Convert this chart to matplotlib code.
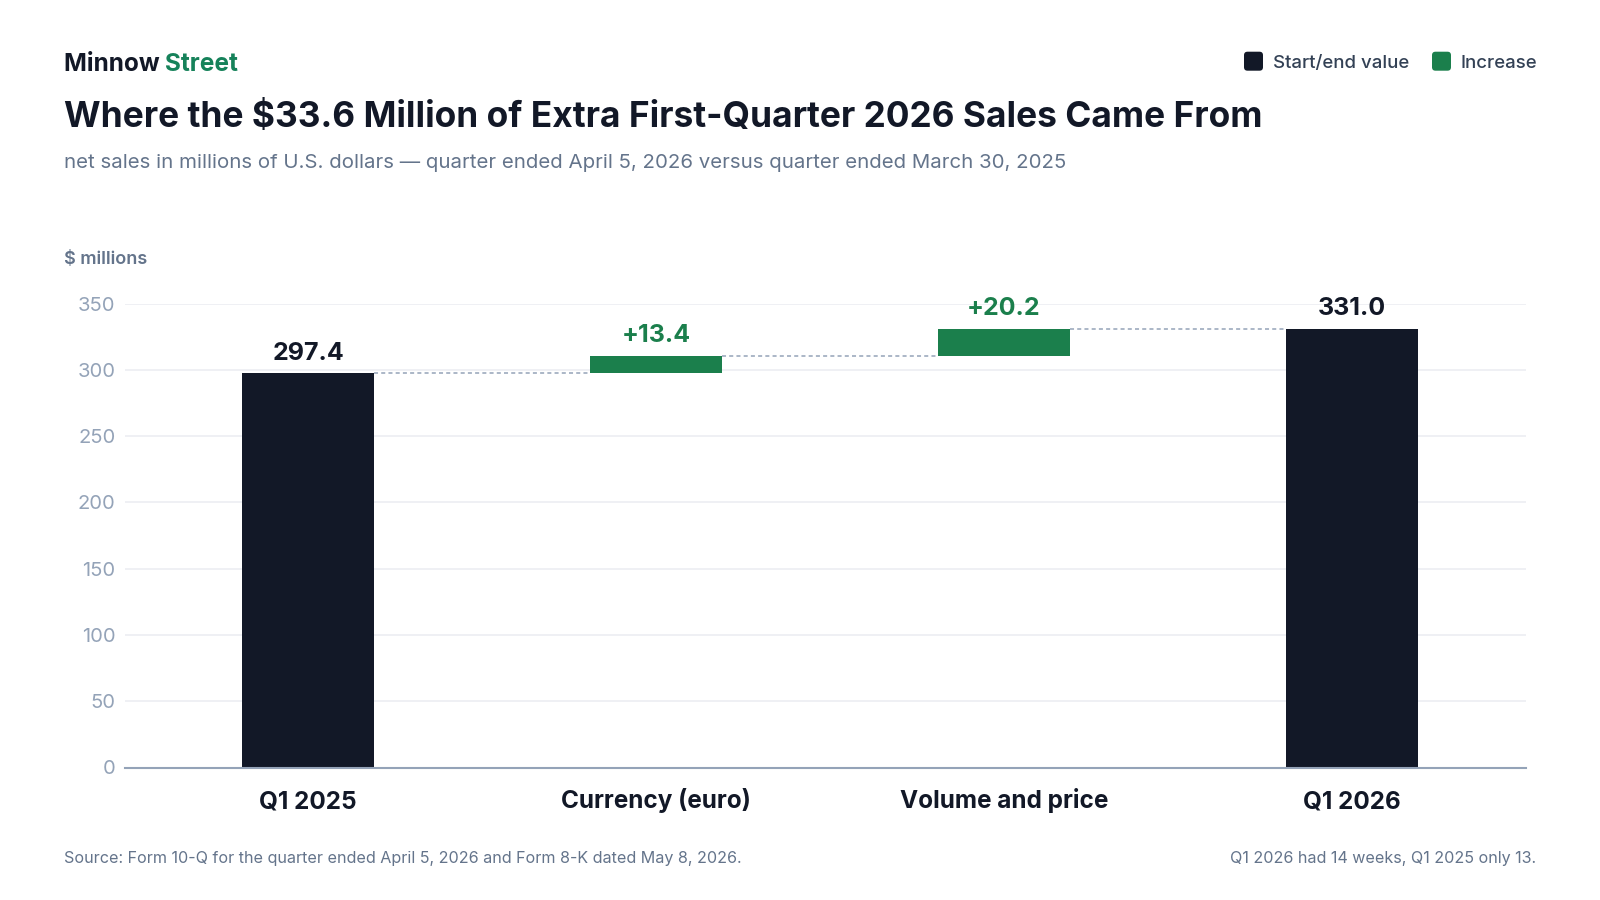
import matplotlib
matplotlib.use("Agg")
import matplotlib.pyplot as plt
from matplotlib.patches import FancyBboxPatch

# data
categories = ["Q1 2025", "Currency (euro)", "Volume and price", "Q1 2026"]
amounts = [297.4, 13.4, 20.2, 331.0]
kinds = ["total", "increase", "increase", "total"]
value_labels = ["297.4", "+13.4", "+20.2", "331.0"]
y_ticks = [0, 50, 100, 150, 200, 250, 300, 350]

NAVY = "#121827"
GREEN = "#1b7f4c"
BRAND_GREEN = "#16825a"
SLATE = "#334155"
SUB = "#64748b"
TICK = "#94a3b8"
GRID = "#eceef2"

plt.rcParams["font.family"] = ["Inter", "DejaVu Sans"]
plt.rcParams["lines.scale_dashes"] = False

W, H = 1600, 900
fig = plt.figure(figsize=(W / 100, H / 100), dpi=100)
fig.patch.set_facecolor("white")


def fx(px):
    return px / W


def fy(px):
    return 1 - px / H


ax = fig.add_axes([fx(125), fy(767.5), fx(1525.7 - 125), (767.5 - 303.7) / H])

# waterfall geometry from the data
bottoms, tops = [], []
running = 0.0
for amt, kind in zip(amounts, kinds):
    if kind == "total":
        bottoms.append(0.0)
        tops.append(amt)
        running = amt
    else:
        bottoms.append(running)
        running += amt
        tops.append(running)

x = list(range(len(categories)))
width = 0.38
heights = [t - b for t, b in zip(tops, bottoms)]
colors = [NAVY if k == "total" else GREEN for k in kinds]
ax.bar(x, heights, bottom=bottoms, width=width, color=colors, zorder=3)

# connectors
for i in range(len(x) - 1):
    ax.plot([x[i] + width / 2, x[i + 1] - width / 2], [tops[i], tops[i]],
            color=TICK, lw=1.1, linestyle=(0, (2.9, 2.3)), zorder=2)

# value labels
for xi, t, lab, k in zip(x, tops, value_labels, kinds):
    ax.annotate(lab, (xi, t), xytext=(0, 9.7), textcoords="offset points",
                ha="center", va="baseline", fontsize=18, fontweight="bold",
                color=NAVY if k == "total" else GREEN, annotation_clip=False)

ax.set_xlim(-0.526, 3.5)
ax.set_ylim(0, 350)
ax.set_yticks(y_ticks)
ax.set_yticklabels([str(v) for v in y_ticks])
ax.set_xticks(x)
ax.set_xticklabels(categories)
ax.tick_params(axis="y", length=0, pad=7, labelsize=14.5, labelcolor=TICK)
ax.tick_params(axis="x", length=0, pad=29.2, labelsize=17.5, labelcolor=NAVY)
for lab in ax.get_xticklabels():
    lab.set_fontweight("bold")
    lab.set_verticalalignment("baseline")
ax.grid(axis="y", color=GRID, lw=1.2, zorder=0)
ax.set_axisbelow(True)
for s in ["top", "right", "left"]:
    ax.spines[s].set_visible(False)
ax.spines["bottom"].set_color(TICK)
ax.spines["bottom"].set_linewidth(1.5)
ax.spines["bottom"].set_zorder(4)

# header
brand = fig.text(fx(64), fy(70.7), "Minnow ", fontsize=17.6, fontweight="bold",
                 color=NAVY, va="baseline", ha="left")
fig.canvas.draw()
bb = brand.get_window_extent()
fig.text(bb.x1 / W, fy(70.7), "Street", fontsize=17.6, fontweight="bold",
         color=BRAND_GREEN, va="baseline", ha="left")
fig.text(fx(64), fy(127.3), "Where the $33.6 Million of Extra First-Quarter 2026 Sales Came From",
         fontsize=25.4, fontweight="bold", color=NAVY, va="baseline", ha="left")
fig.text(fx(64), fy(168.3),
         "net sales in millions of U.S. dollars \u2014 quarter ended April 5, 2026 versus quarter ended March 30, 2025",
         fontsize=14.7, color=SUB, va="baseline", ha="left")
fig.text(fx(64), fy(264.3), "$ millions", fontsize=13, fontweight="semibold",
         color=SUB, va="baseline", ha="left")

# legend
legend_items = [("Start/end value", NAVY, 1244), ("Increase", GREEN, 1432)]
for label, col, px in legend_items:
    sq = FancyBboxPatch((px / 100, (H - 70.7) / 100), 0.19, 0.19,
                        boxstyle="round,pad=0,rounding_size=0.035",
                        transform=fig.dpi_scale_trans, facecolor=col,
                        edgecolor="none")
    fig.patches.append(sq)
    fig.text(fx(px + 29), fy(67.7), label, fontsize=13.4, fontweight="medium",
             color=SLATE, va="baseline", ha="left")

# footer
fig.text(fx(64), fy(863), "Source: Form 10-Q for the quarter ended April 5, 2026 and Form 8-K dated May 8, 2026.",
         fontsize=11.6, color=SUB, va="baseline", ha="left")
fig.text(fx(1536), fy(863), "Q1 2026 had 14 weeks, Q1 2025 only 13.",
         fontsize=11.6, color=SUB, va="baseline", ha="right")

fig.savefig("out.png", dpi=100, facecolor="white")
